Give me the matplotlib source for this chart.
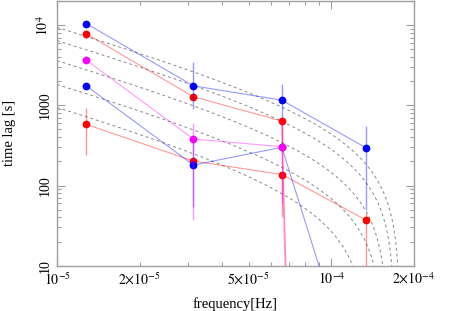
import numpy as np
import matplotlib
matplotlib.use("Agg")
import matplotlib.pyplot as plt
from matplotlib.ticker import FixedLocator, FixedFormatter, NullFormatter

plt.rcParams["font.family"] = ["Liberation Serif", "DejaVu Serif"]
plt.rcParams["mathtext.fontset"] = "stix"

# ---- data ----
freq = [1.28e-5, 3.14e-5, 6.6e-5, 1.34e-4]

blue_top = [10450, 1750, 1160, 294]
blue_top_lo = [10450, 900, 700, 50]
blue_top_hi = [10450, 3440, 1860, 546]

red_top = [7770, 1280, 637, 1e-35]
red_top_lo = [7000, 1280, 320, 1e-35]
red_top_hi = [8600, 1280, 637, 1e-35]

magenta = [3650, 380, 305, 1e-38]
magenta_lo = [3650, 37, 60, 1e-38]
magenta_hi = [3650, 600, 600, 1e-38]

blue_low = [1750, 180, 300, 0.13]
blue_low_lo = [1750, 54, 300, 0.13]
blue_low_hi = [1750, 400, 300, 0.13]

red_low = [578, 202, 137, 37]
red_low_lo = [238, 202, 41, 1]
red_low_hi = [922, 202, 137, 45]

# dashed model curves: lag at 1e-5 Hz and frequency where lag falls to 10 s
model_lag0 = [9400, 6410, 3610, 1820, 942]
model_fend = [1.745e-4, 1.66e-4, 1.538e-4, 1.429e-4, 1.196e-4]

fig = plt.figure(figsize=(4.52, 3.11), dpi=100)
ax = fig.add_axes([0.1261, 0.1457, 0.7898, 0.851])
ax.set_xscale("log")
ax.set_yscale("log")

# model curves  tau = A/f - B
fgrid = np.logspace(-5, np.log10(2e-4), 600)
for v0, fe in zip(model_lag0, model_fend):
    A = (v0 - 10) / (1 / 1e-5 - 1 / fe)
    B = A / 1e-5 - v0
    tau = A / fgrid - B
    tau = np.where(tau > 0, tau, np.nan)
    ax.plot(fgrid, tau, color="#888888", lw=0.7, dashes=(3, 3), zorder=1)

series = [
    (red_top, red_top_lo, red_top_hi, "#ff0000"),
    (red_low, red_low_lo, red_low_hi, "#ff0000"),
    (blue_low, blue_low_lo, blue_low_hi, "#0000ff"),
    (magenta, magenta_lo, magenta_hi, "#ff00ff"),
    (blue_top, blue_top_lo, blue_top_hi, "#0000ff"),
]
for i, (y, lo, hi, c) in enumerate(series):
    z = 3 + i
    ax.vlines(freq, lo, hi, color=c, alpha=0.4, lw=1.0, zorder=z)
    ax.plot(freq, y, "-", color=c, alpha=0.4, lw=0.8, zorder=z)
    ax.plot(freq, y, "o", color=c, ms=5.6, mec="none", zorder=z + 0.5)

ax.set_xlim(1e-5, 2e-4)
ax.set_ylim(10, 2e4)

# ticks
ax.xaxis.set_major_locator(FixedLocator([1e-5, 1e-4]))
ax.xaxis.set_major_formatter(FixedFormatter([r"$10^{-5}$", r"$10^{-4}$"]))
xminor = [2e-5, 3e-5, 4e-5, 5e-5, 6e-5, 7e-5, 8e-5, 9e-5, 2e-4]
xminor_lab = [r"$2{\times}10^{-5}$", "", "", r"$5{\times}10^{-5}$", "", "", "", "",
              r"$2{\times}10^{-4}$"]
ax.xaxis.set_minor_locator(FixedLocator(xminor))
ax.xaxis.set_minor_formatter(FixedFormatter(xminor_lab))

ax.yaxis.set_major_locator(FixedLocator([10, 100, 1000, 1e4]))
ax.yaxis.set_major_formatter(FixedFormatter(["10", "100", "1000", r"$10^4$"]))
yminor = [m * d for d in (10, 100, 1000) for m in range(2, 10)] + [2e4]
ax.yaxis.set_minor_locator(FixedLocator(yminor))
ax.yaxis.set_minor_formatter(NullFormatter())

ax.tick_params(which="both", direction="in", top=True, right=True,
               color="#a0a0a0", width=0.8, labelsize=10, pad=4)
ax.tick_params(which="major", length=6)
ax.tick_params(which="minor", length=3)
for lab in ax.get_yticklabels():
    lab.set_rotation(90)
    lab.set_va("center")

for s in ax.spines.values():
    s.set_color("#a0a0a0")
    s.set_linewidth(1.0)

ax.set_xlabel("frequency[Hz]", fontsize=10.5, labelpad=7)
ax.set_ylabel("time lag [s]", fontsize=10.5, labelpad=14)

fig.savefig("out.png", dpi=100)
